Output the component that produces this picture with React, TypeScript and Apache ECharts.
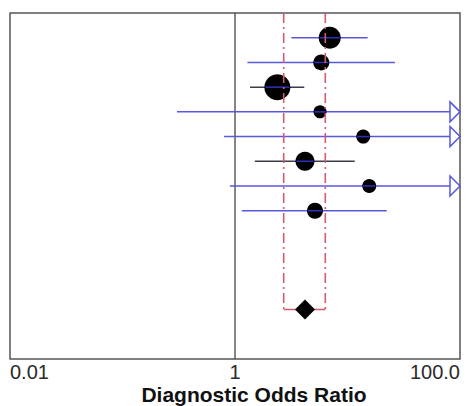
import React, { useEffect, useRef } from "react";
import * as echarts from "echarts";

// ---- data ----
const studyRows = [1, 2, 3, 4, 5, 6, 7, 8];
const oddsRatios = [6.95, 5.85, 2.38, 5.7, 13.8, 4.19, 15.6, 5.14];
const lowerCI = [3.17, 1.29, 1.36, 0.305, 0.8, 1.5, 0.9, 1.15];
const upperCI = [15.1, 26.4, 4.13, 180, 320, 11.6, 400, 22.3];
const studyWeights = [22, 16, 26, 13, 14, 19, 14, 16];
const ciLineKinds = ["blue", "blue", "dark", "blue", "blue", "dark", "blue", "blue"];
const pooledRow = 12;
const pooledOR = 4.19;
const pooledLower = 2.71;
const pooledUpper = 6.35;
const xTicks = [0.01, 1, 100];
const xTickLabels = ["0.01", "1", "100.0"];
const axisTitle = "Diagnostic Odds Ratio";

const X_MIN = 0.01;
const X_MAX = 100;
const Y_MAX = 14;
const BLUE = "#5858dc";
const DARK = "#3c3c48";
const RED = "#d45a70";
const FONT = "'Liberation Sans', Arial, sans-serif";

export default function App() {
  const ref = useRef<HTMLDivElement>(null);

  useEffect(() => {
    if (!ref.current) return;
    const chart = echarts.init(ref.current, undefined, { renderer: "svg" });

    const studyData = studyRows.map((row, i) => [
      oddsRatios[i],
      lowerCI[i],
      upperCI[i],
      row,
      studyWeights[i],
    ]);

    const dashed = { color: RED, width: 1.6, type: [10, 4, 2, 4] };

    const option: any = {
      animation: false,
      grid: {
        left: 10,
        right: 10,
        top: 13,
        bottom: 47,
        show: true,
        borderColor: "#555",
        borderWidth: 1.5,
        backgroundColor: "#fff",
      },
      xAxis: {
        type: "log",
        logBase: 10,
        min: X_MIN,
        max: X_MAX,
        axisLine: { show: false },
        axisTick: { show: false },
        splitLine: { show: false },
        axisLabel: {
          show: true,
          showMinLabel: true,
          showMaxLabel: true,
          alignMinLabel: "left",
          alignMaxLabel: "right",
          margin: 3,
          fontSize: 20,
          fontFamily: FONT,
          color: "#2a2a2a",
          formatter: (v: number) => {
            const idx = xTicks.findIndex((t) => Math.abs(v - t) / t < 1e-6);
            return idx >= 0 ? xTickLabels[idx] : "";
          },
        },
      },
      yAxis: {
        type: "value",
        min: 0,
        max: Y_MAX,
        inverse: true,
        show: false,
      },
      graphic: [
        {
          type: "text",
          x: 254,
          y: 394,
          style: {
            text: axisTitle,
            font: `bold 21px ${FONT}`,
            fill: "#111",
            textAlign: "center",
            textVerticalAlign: "middle",
          },
        },
      ],
      series: [
        {
          type: "line",
          data: [
            [1, 0],
            [1, Y_MAX],
          ],
          symbol: "none",
          lineStyle: { color: "#444", width: 1.3 },
          z: 1,
          silent: true,
        },
        {
          type: "custom",
          data: studyData,
          clip: false,
          z: 2,
          encode: { x: 0, y: 3 },
          renderItem: (params: any, api: any) => {
            const i = params.dataIndex;
            const est = api.value(0);
            const lo = api.value(1);
            const hi = api.value(2);
            const row = api.value(3);
            const size = api.value(4);
            const cs = params.coordSys;
            const xRight = cs.x + cs.width;
            const pE = api.coord([est, row]);
            const pL = api.coord([lo, row]);
            const over = hi > X_MAX;
            const y = pE[1];
            const xEnd = over ? xRight - 10 : api.coord([hi, row])[0];
            const r = size / 2;
            const lineColor = ciLineKinds[i] === "dark" ? DARK : BLUE;
            const children: any[] = [
              {
                type: "line",
                shape: { x1: pL[0], y1: y, x2: xEnd, y2: y },
                style: { stroke: lineColor, lineWidth: 1.5 },
              },
              {
                type: "circle",
                shape: { cx: pE[0], cy: y, r },
                style: { fill: "#000" },
              },
              {
                type: "line",
                shape: { x1: pE[0] - r + 1, y1: y, x2: pE[0] + r - 1, y2: y },
                style: { stroke: "#3030c0", lineWidth: 1.5 },
              },
            ];
            if (over) {
              children.push({
                type: "polygon",
                shape: {
                  points: [
                    [xRight - 10, y - 10],
                    [xRight, y],
                    [xRight - 10, y + 10],
                  ],
                },
                style: { fill: "#fff", stroke: BLUE, lineWidth: 1.5 },
              });
            }
            return { type: "group", children };
          },
        },
        {
          type: "line",
          data: [
            [pooledLower, 0],
            [pooledLower, pooledRow],
          ],
          symbol: "none",
          lineStyle: dashed,
          z: 3,
          silent: true,
        },
        {
          type: "line",
          data: [
            [pooledUpper, 0],
            [pooledUpper, pooledRow],
          ],
          symbol: "none",
          lineStyle: dashed,
          z: 3,
          silent: true,
        },
        {
          type: "line",
          data: [
            [pooledLower, pooledRow],
            [pooledUpper, pooledRow],
          ],
          symbol: "none",
          lineStyle: { color: RED, width: 1.6 },
          z: 3,
          silent: true,
        },
        {
          type: "scatter",
          data: [[pooledOR, pooledRow]],
          symbol: "diamond",
          symbolSize: [20, 20],
          itemStyle: { color: "#000", opacity: 1 },
          z: 4,
          silent: true,
        },
      ],
    };

    chart.setOption(option);
    return () => chart.dispose();
  }, []);

  return (
    <div
      ref={ref}
      style={{ position: "absolute", left: 0, top: 0, width: 470, height: 406 }}
    />
  );
}
